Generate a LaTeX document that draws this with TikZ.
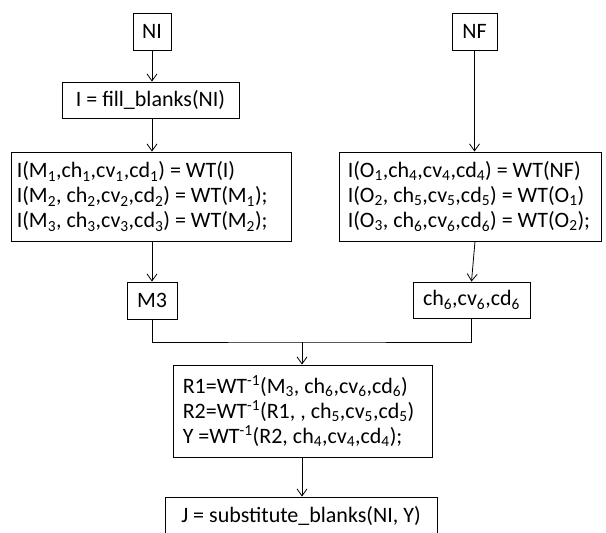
\documentclass[tikz,border=0pt]{standalone}
\usepackage{fontspec}
\setmainfont{Carlito}
\usetikzlibrary{arrows.meta}
\newcommand{\sbs}[1]{\textsubscript{#1}}
\newcommand{\sps}[1]{\textsuperscript{#1}}
\begin{document}
\begin{tikzpicture}[x=1pt,y=-1pt,
  txt/.style={inner sep=0pt,font=\fontsize{22}{25}\selectfont,align=left},
  box/.style={txt,draw,line width=0.9pt},
  arr/.style={line width=0.8pt,-{Straight Barb[length=7pt,width=10pt]}},
  ln/.style={line width=0.8pt}]
\useasboundingbox (0,0) rectangle (606,533);
\clip (0,0) rectangle (606,533);
\node[box,minimum width=38pt,minimum height=37pt] (NI) at (152,31.5) {NI};
\node[box,minimum width=177pt,minimum height=36pt] (fill) at (150.5,100) {I = fill\_blanks(NI)};
\node[box,minimum width=280pt,minimum height=89pt] (L) at (151,196.5) {};
\node[txt,anchor=west] (Lt) at ([xshift=6pt]L.west)
 {I(M\sbs{1},ch\sbs{1},cv\sbs{1},cd\sbs{1}) = WT(I)\\
  I(M\sbs{2}, ch\sbs{2},cv\sbs{2},cd\sbs{2}) = WT(M\sbs{1});\\
  I(M\sbs{3}, ch\sbs{3},cv\sbs{3},cd\sbs{3}) = WT(M\sbs{2});};
\node[box,minimum width=50pt,minimum height=37pt] (M3) at (152,300.5) {M3};
\node[box,minimum width=45pt,minimum height=37pt] (NF) at (474.5,31.5) {NF};
\node[box,minimum width=262pt,minimum height=89pt] (R) at (470,196.5) {};
\node[txt,anchor=west] (Rt) at ([xshift=9pt]R.west)
 {I(O\sbs{1},ch\sbs{4},cv\sbs{4},cd\sbs{4}) = WT(NF)\\
  I(O\sbs{2}, ch\sbs{5},cv\sbs{5},cd\sbs{5}) = WT(O\sbs{1})\\
  I(O\sbs{3}, ch\sbs{6},cv\sbs{6},cd\sbs{6}) = WT(O\sbs{2});};
\node[box,minimum width=117pt,minimum height=36pt] (ch) at (471.5,300) {ch\sbs{6},cv\sbs{6},cd\sbs{6}};
\node[box,minimum width=259pt,minimum height=92pt] (B) at (302.5,411) {};
\node[txt,anchor=west] (Bt) at ([xshift=10pt]B.west)
 {R1=WT\sps{-1}(M\sbs{3}, ch\sbs{6},cv\sbs{6},cd\sbs{6})\\
  R2=WT\sps{-1}(R1, , ch\sbs{5},cv\sbs{5},cd\sbs{5})\\
  Y =WT\sps{-1}(R2, ch\sbs{4},cv\sbs{4},cd\sbs{4});};
\node[box,minimum width=272pt,minimum height=38pt] (J) at (301,516) {J = substitute\_blanks(NI, Y)};
\coordinate (j) at (302,342);
\draw[arr] (NI.south) -- (NI.south |- fill.north);
\draw[arr] (fill.south -| NI.south) -- (NI.south |- L.north);
\draw[arr] (NF.south) -- (NF.south |- R.north);
\draw[arr] (M3.south |- L.south) -- (M3.north);
\draw[arr] ([xshift=5pt]R.south) -- (ch.north);
\draw[ln] (M3.south) |- (j) -| (ch.south);
\draw[arr] (j) -- (j |- B.north);
\draw[arr] (j |- B.south) -- (j |- J.north);
\end{tikzpicture}
\end{document}
